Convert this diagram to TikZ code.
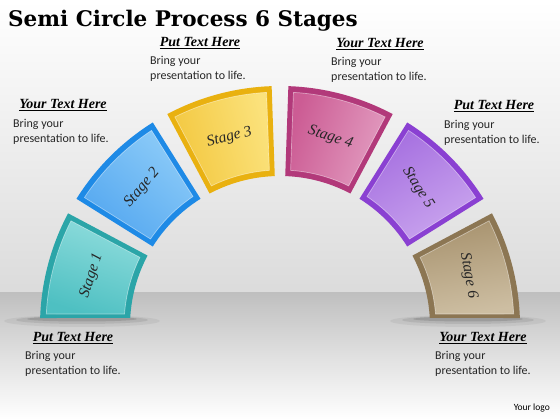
\documentclass[tikz,border=0pt]{standalone}
\usepackage{fontspec}
\setmainfont{Carlito}
\newfontfamily\titlefont{DejaVu Serif}
\newfontfamily\headfont{Liberation Serif}
\usetikzlibrary{calc}
\definecolor{tealD}{HTML}{2BA5A8}\definecolor{tealL}{HTML}{8EDCDC}\definecolor{tealM}{HTML}{4EC0C2}
\definecolor{blueD}{HTML}{1E8AE6}\definecolor{blueL}{HTML}{8CCBF8}\definecolor{blueM}{HTML}{55A8F0}
\definecolor{yelD}{HTML}{E9B110}\definecolor{yelL}{HTML}{FBE27C}\definecolor{yelM}{HTML}{F3C840}
\definecolor{pinkD}{HTML}{B2397A}\definecolor{pinkL}{HTML}{E29CC0}\definecolor{pinkM}{HTML}{CC5C94}
\definecolor{purD}{HTML}{8A40D2}\definecolor{purL}{HTML}{C9A4EE}\definecolor{purM}{HTML}{A670E0}
\definecolor{brnD}{HTML}{8C7653}\definecolor{brnL}{HTML}{CDBEA2}\definecolor{brnM}{HTML}{A8936F}
\tikzset{
  headtext/.style={font=\headfont\bfseries\itshape\fontsize{14}{16}\selectfont, inner sep=0pt},
  bodytext/.style={font=\fontsize{12}{15}\selectfont, align=left, inner sep=0pt, text=black!85},
  stagetext/.style={font=\headfont\itshape\fontsize{15.5}{16}\selectfont, inner sep=0pt, text=black!85},
}
\begin{document}
\begin{tikzpicture}[x=1pt,y=1pt]
\useasboundingbox (0,0) rectangle (560,420);
% background
\shade[top color=white, bottom color=black!14] (0,127) rectangle (560,420);
\shade[top color=black!25, bottom color=white, middle color=black!12] (0,0) rectangle (560,127);
\coordinate (C) at (280,94);
% shadows under bottom stages
\foreach \sx in {82,468}{
  \fill[black,opacity=0.05] (\sx,99) ellipse [x radius=78pt, y radius=6pt];
  \fill[black,opacity=0.08] (\sx,100) ellipse [x radius=66pt, y radius=4pt];
  \fill[black,opacity=0.12] (\sx,101) ellipse [x radius=55pt, y radius=2.5pt];
}
% stages
\foreach \n/\cd/\cm/\cl/\oa/\ob/\ib/\ia/\poa/\pob/\pib/\pia/\la/\rot in {
  1/tealD/tealM/tealL/152/178.09/176.94/152/153.3/177.06/175.6/153.9/165/72,
  2/blueD/blueM/blueL/122/148/148/122/123.3/146.7/146.1/123.9/135/50,
  3/yelD/yelM/yelL/92/118/118/92/93.3/116.7/116.1/93.9/105/15,
  4/pinkD/pinkM/pinkL/62/88/88/62/63.3/86.7/86.1/63.9/75/-18,
  5/purD/purM/purL/32/58/58/32/33.3/56.7/56.1/33.9/45/-58,
  6/brnD/brnM/brnL/1.91/28/28/3.06/2.94/26.7/26.1/4.4/15/-80}{
  \fill[\cd] ($(C)+(\oa:240pt)$) arc[start angle=\oa, end angle=\ob, radius=240pt]
     -- ($(C)+(\ib:150pt)$) arc[start angle=\ib, end angle=\ia, radius=150pt] -- cycle;
  \shade[left color=\cm, right color=\cl, shading angle=\rot+90]
     ($(C)+(\poa:234pt)$) arc[start angle=\poa, end angle=\pob, radius=234pt]
     -- ($(C)+(\pib:156pt)$) arc[start angle=\pib, end angle=\pia, radius=156pt] -- cycle;
  \draw[white,opacity=0.45,line width=0.7pt]
     ($(C)+(\poa:234pt)$) arc[start angle=\poa, end angle=\pob, radius=234pt]
     -- ($(C)+(\pib:156pt)$) arc[start angle=\pib, end angle=\pia, radius=156pt] -- cycle;
  \node[stagetext, rotate=\rot] (s\n) at ($(C)+(\la:195pt)$) {Stage \n};
}
% title
\node[font=\titlefont\bfseries\fontsize{21.5}{24}\selectfont, anchor=base west, inner sep=0pt] (title) at (8,393) {Semi Circle Process 6 Stages};
% text blocks (anchor base = last line)
\node[headtext] (hA) at (200,377) {\underline{Put Text Here}};
\node[bodytext, anchor=base west] (bA) at (150,340) {Bring your\\presentation to life.};
\node[headtext] (hB) at (380,376) {\underline{Your Text Here}};
\node[bodytext, anchor=base west] (bB) at (331,339) {Bring your\\presentation to life.};
\node[headtext] (hC) at (63,315) {\underline{Your Text Here}};
\node[bodytext, anchor=base west] (bC) at (13,277) {Bring your\\presentation to life.};
\node[headtext] (hD) at (494,314) {\underline{Put Text Here}};
\node[bodytext, anchor=base west] (bD) at (444,276) {Bring your\\presentation to life.};
\node[headtext] (hE) at (73,82) {\underline{Put Text Here}};
\node[bodytext, anchor=base west] (bE) at (25,45) {Bring your\\presentation to life.};
\node[headtext] (hF) at (483,82) {\underline{Your Text Here}};
\node[bodytext, anchor=base west] (bF) at (435,45) {Bring your\\presentation to life.};
\node[font=\fontsize{9.5}{11}\selectfont, anchor=base east, inner sep=0pt] (logo) at (550,9) {Your logo};
\end{tikzpicture}
\end{document}
